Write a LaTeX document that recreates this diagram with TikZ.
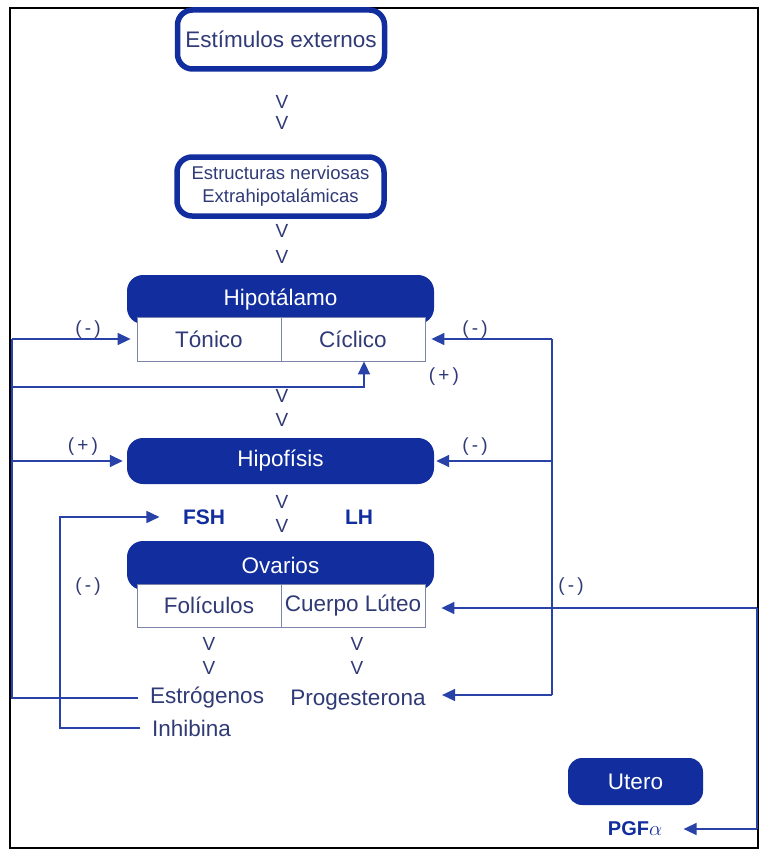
\documentclass[tikz,border=0pt]{standalone}
\usepackage{fontspec}
\setmainfont{Liberation Sans}
\usetikzlibrary{positioning,arrows.meta}

\definecolor{boxblue}{RGB}{18,46,158}
\definecolor{txtblue}{RGB}{48,58,118}
\definecolor{lineblue}{RGB}{40,66,168}
\definecolor{cellgray}{RGB}{125,132,170}

\tikzset{
  capsule/.style={draw=boxblue,line width=5.5pt,fill=white,rounded corners=15pt,
    minimum width=207pt,minimum height=59pt,text=txtblue,align=center},
  bluebar/.style={fill=boxblue,rounded corners=16pt,minimum width=307pt,
    text=white,font=\fontsize{22.5}{26}\selectfont},
  cell/.style={draw=cellgray,line width=0.8pt,fill=white,minimum width=144pt,
    minimum height=44pt,text=txtblue,font=\fontsize{22.5}{26}\selectfont},
  vmark/.style={text=txtblue,font=\fontsize{19}{22}\selectfont,inner sep=0pt},
  hormone/.style={text=txtblue,font=\fontsize{22.5}{26}\selectfont},
  boldlabel/.style={text=boxblue,font=\fontsize{21}{24}\selectfont\bfseries},
  sign/.style={text=txtblue,font=\fontsize{19}{22}\selectfont},
  fb/.style={draw=lineblue,line width=1.6pt},
  fbarrow/.style={fb,-{Triangle[length=13pt,width=12pt]}},
}

\begin{document}
\begin{tikzpicture}[x=1pt,y=-1pt]
  \useasboundingbox (0,0) rectangle (768,856);
  \draw[line width=1.6pt] (10,8) rectangle (758,848);

  % boxes
  \node[capsule,font=\fontsize{22.5}{26}\selectfont] at (281,39.5) (estim) {Estímulos externos};
  \node[capsule,font=\fontsize{18.5}{23}\selectfont] at (280.5,186.5) (estruc) {Estructuras nerviosas\\Extrahipotalámicas};
  \node[bluebar,minimum height=49pt] at (280.5,299.5) (hipot) {Hipotálamo};
  \node[cell] at (209,339) (tonico) {Tónico};
  \node[cell] at (353,339) (ciclico) {Cíclico};
  \node[bluebar,minimum height=46pt] at (280.5,461) (hipof) {Hipofísis};
  \node[bluebar,minimum height=49pt] at (280.5,565.5) (ovar) {Ovarios};
  \node[cell,minimum height=43pt] at (209,605.5) (folic) {Folículos};
  \node[cell,minimum height=43pt] at (353,605.5) (cuerpo) {Cuerpo Lúteo};
  \node[bluebar,minimum width=135pt,minimum height=47pt,rounded corners=14pt] at (635.5,781.5) (utero) {Utero};

  % V marks
  \foreach \vx/\vy/\vn in {282/102/a,282/123/b,282/231/c,282/257/d,282/396/e,282/420/f,
                           282/502/g,282/526/h,209/644/i,209/668/j,357/644/k,357/668/l}
    \node[vmark] at (\vx,\vy) (v\vn) {V};

  % hormones
  \node[boldlabel] at (204,517) (fsh) {FSH};
  \node[boldlabel] at (359,517) (lh) {LH};
  \node[hormone,anchor=west,inner xsep=12pt] at (138,698) (estrog) {Estrógenos};
  \node[hormone,anchor=west,inner xsep=12pt] at (140,728) (inhib) {Inhibina};
  \node[hormone] at (358,700) (prog) {Progesterona};
  \node[boldlabel,font=\fontsize{20}{24}\selectfont\bfseries] at (635,829) (pgf) {PGF$\alpha$};

  % signs
  \node[sign] at (88,330) {(\,-\,)};
  \node[sign] at (475,330) {(\,-\,)};
  \node[sign] at (444,377) {(\,+\,)};
  \node[sign] at (83,447) {(\,+\,)};
  \node[sign] at (475,447) {(\,-\,)};
  \node[sign] at (88,587) {(\,-\,)};
  \node[sign] at (571,587) {(\,-\,)};

  % buses
  \coordinate (lbus) at (12,0);
  \coordinate (lbusb) at (60,0);
  \coordinate (rbus) at (552,0);
  \coordinate (fbus) at (757,0);
  \coordinate (cup) at (364,387);

  % feedback on the left
  \draw[fb] (estrog.west) -- (estrog.west -| lbus) -- (tonico.west -| lbus);
  \draw[fbarrow,shorten >=6pt] (tonico.west -| lbus) -- (tonico.west);
  \draw[fbarrow,shorten >=4pt] (hipof.west -| lbus) -- (hipof.west);
  \draw[fbarrow] (cup -| lbus) -- (cup) -- (cup |- ciclico.south);
  \draw[fbarrow,shorten >=20pt] (inhib.west) -- (inhib.west -| lbusb) -- (fsh.west -| lbusb) -- (fsh.west);

  % feedback on the right
  \draw[fb] (rbus |- ciclico.east) -- (rbus |- 0,695);
  \draw[fbarrow,shorten >=6pt] (rbus |- ciclico.east) -- (ciclico.east);
  \draw[fbarrow,shorten >=2pt] (rbus |- hipof.east) -- (hipof.east);
  \draw[fbarrow,shorten >=13pt] (rbus |- 0,695) -- (prog.east |- 0,695);
  \draw[fb] (fbus |- 0,608) -- (fbus |- pgf.east);
  \draw[fbarrow,shorten >=16pt] (fbus |- 0,608) -- (cuerpo.east |- 0,608);
  \draw[fbarrow,shorten >=18pt] (fbus |- pgf.east) -- (pgf.east);
\end{tikzpicture}
\end{document}
